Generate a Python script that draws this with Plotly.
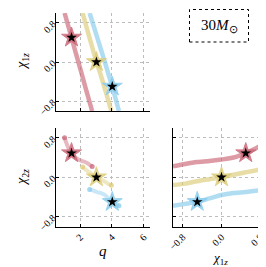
import plotly.graph_objects as go

W, H = 266, 267

# ---- data ----
chi1_grid = [-1.0, -0.75, -0.5, -0.25, 0.0, 0.25, 0.5, 0.75, 1.0]

red_q = [2.75, 2.53, 2.31, 2.10, 1.88, 1.66, 1.45, 1.23, 1.01]
red_chi2 = [0.22, 0.27, 0.31, 0.33, 0.36, 0.40, 0.49, 0.61, 0.80]

yellow_q = [3.96, 3.74, 3.51, 3.28, 3.02, 2.80, 2.58, 2.36, 2.15]
yellow_chi2 = [-0.16, -0.13, -0.08, -0.04, 0.0, 0.05, 0.10, 0.15, 0.21]

blue_q = [4.44, 4.23, 4.02, 3.78, 3.55, 3.31, 3.07, 2.83, 2.59]
blue_chi2 = [-0.58, -0.54, -0.50, -0.43, -0.36, -0.32, -0.30, -0.27, -0.25]

star_chi1 = [0.5, 0.0, -0.5]
star_q = [1.45, 3.02, 4.02]
star_chi2 = [0.49, 0.0, -0.50]

colors = ["#CC6677", "#DDCC77", "#88CCEE"]

q_ticks = [2, 4, 6]
q_ticktext = ["2", "4", "6"]
chi_ticks = [-0.8, 0.0, 0.8]
chi_ticktext = ["\u22120.8", "0.0", "0.8"]

FONT = "Liberation Serif"

series = [
    (red_q, red_chi2),
    (yellow_q, yellow_chi2),
    (blue_q, blue_chi2),
]

fig = go.Figure()

panels = [
    # (xaxis, yaxis, xkey, ykey, opacity, width)
    ("x", "y", "q", "chi1", 0.65, 4.5),
    ("x2", "y2", "q", "chi2", 0.45, 4),
    ("x3", "y3", "chi1", "chi2", 0.65, 4.5),
]

for xa, ya, xk, yk, op, lw in panels:
    for i, (qs, c2s) in enumerate(series):
        d = {"q": qs, "chi1": chi1_grid, "chi2": c2s}
        fig.add_trace(go.Scatter(
            x=d[xk], y=d[yk], xaxis=xa, yaxis=ya, mode="lines",
            line=dict(color=colors[i], width=lw, shape="spline", smoothing=0.6),
            opacity=op, hoverinfo="skip", showlegend=False))
        if xa == "x2":
            fig.add_trace(go.Scatter(
                x=[d[xk][0], d[xk][-1]], y=[d[yk][0], d[yk][-1]],
                xaxis=xa, yaxis=ya, mode="markers",
                marker=dict(color=colors[i], size=5), opacity=0.75,
                hoverinfo="skip", showlegend=False))
    sd = {"q": star_q, "chi1": star_chi1, "chi2": star_chi2}
    for i in range(3):
        fig.add_trace(go.Scatter(
            x=[sd[xk][i]], y=[sd[yk][i]], xaxis=xa, yaxis=ya, mode="markers",
            marker=dict(symbol="star", size=15, color=colors[i],
                        line=dict(color=colors[i], width=1)),
            opacity=0.85, hoverinfo="skip", showlegend=False))
        fig.add_trace(go.Scatter(
            x=[sd[xk][i]], y=[sd[yk][i]], xaxis=xa, yaxis=ya, mode="markers",
            marker=dict(symbol="star", size=8, color="black"),
            hoverinfo="skip", showlegend=False))

def px(x):
    return x / W

def py(y):
    return 1 - y / H

left_dom = [px(48), px(142)]
right_dom = [px(165), px(262)]
top_dom = [py(103), py(5)]
bot_dom = [py(218.5), py(120)]

common = dict(
    showline=True, linecolor="black", linewidth=1, mirror=False,
    ticks="inside", ticklen=3, tickcolor="black", tickwidth=1,
    showgrid=True, gridcolor="#bdbdbd", gridwidth=1, griddash="dot",
    zeroline=False, automargin=False,
    tickfont=dict(family=FONT, size=10, color="black"),
    tickangle=-45,
)

fig.update_layout(
    width=W, height=H,
    margin=dict(l=0, r=0, t=0, b=0),
    paper_bgcolor="white", plot_bgcolor="white",
    font=dict(family=FONT, color="black"),
    xaxis=dict(domain=left_dom, range=[0.47, 6.4], tickvals=q_ticks,
               ticktext=q_ticktext, showticklabels=False, anchor="y", **common),
    yaxis=dict(domain=top_dom, range=[-1, 1], tickvals=chi_ticks,
               ticktext=chi_ticktext, anchor="x", **common),
    xaxis2=dict(domain=left_dom, range=[0.47, 6.4], tickvals=q_ticks,
                ticktext=q_ticktext, anchor="y2", **common),
    yaxis2=dict(domain=bot_dom, range=[-1, 1], tickvals=chi_ticks,
                ticktext=chi_ticktext, anchor="x2", **common),
    xaxis3=dict(domain=right_dom, range=[-1, 1], tickvals=chi_ticks,
                ticktext=chi_ticktext, anchor="y3", **common),
    yaxis3=dict(domain=bot_dom, range=[-1, 1], tickvals=chi_ticks,
                ticktext=chi_ticktext, showticklabels=False, anchor="x3", **common),
)

# axis titles as annotations
chi1_label = "<i>χ</i><sub>1<i>z</i></sub>"
chi2_label = "<i>χ</i><sub>2<i>z</i></sub>"
annos = [
    dict(x=px(14), y=py(54), text=chi1_label, textangle=-90, size=14),
    dict(x=px(14), y=py(170), text=chi2_label, textangle=-90, size=14),
    dict(x=px(95), y=py(243), text="<i>q</i>", textangle=0, size=15),
    dict(x=px(212), y=py(250), text=chi1_label, textangle=0, size=13),
]
for a in annos:
    fig.add_annotation(x=a["x"], y=a["y"], xref="paper", yref="paper",
                       text=a["text"], textangle=a["textangle"], showarrow=False,
                       xanchor="center", yanchor="middle",
                       font=dict(family=FONT, size=a["size"], color="black"))

# mass box
fig.add_shape(type="rect", xref="paper", yref="paper",
              x0=px(181.5), x1=px(240.5), y0=py(34), y1=py(1.5),
              line=dict(color="black", width=1, dash="dot"),
              fillcolor="rgba(0,0,0,0)")
fig.add_annotation(x=px(211), y=py(17.5), xref="paper", yref="paper",
                   text="30<i>M</i><sub>⊙</sub>", showarrow=False,
                   xanchor="center", yanchor="middle",
                   font=dict(family=FONT, size=15, color="black"))

fig.write_html("out.html")
